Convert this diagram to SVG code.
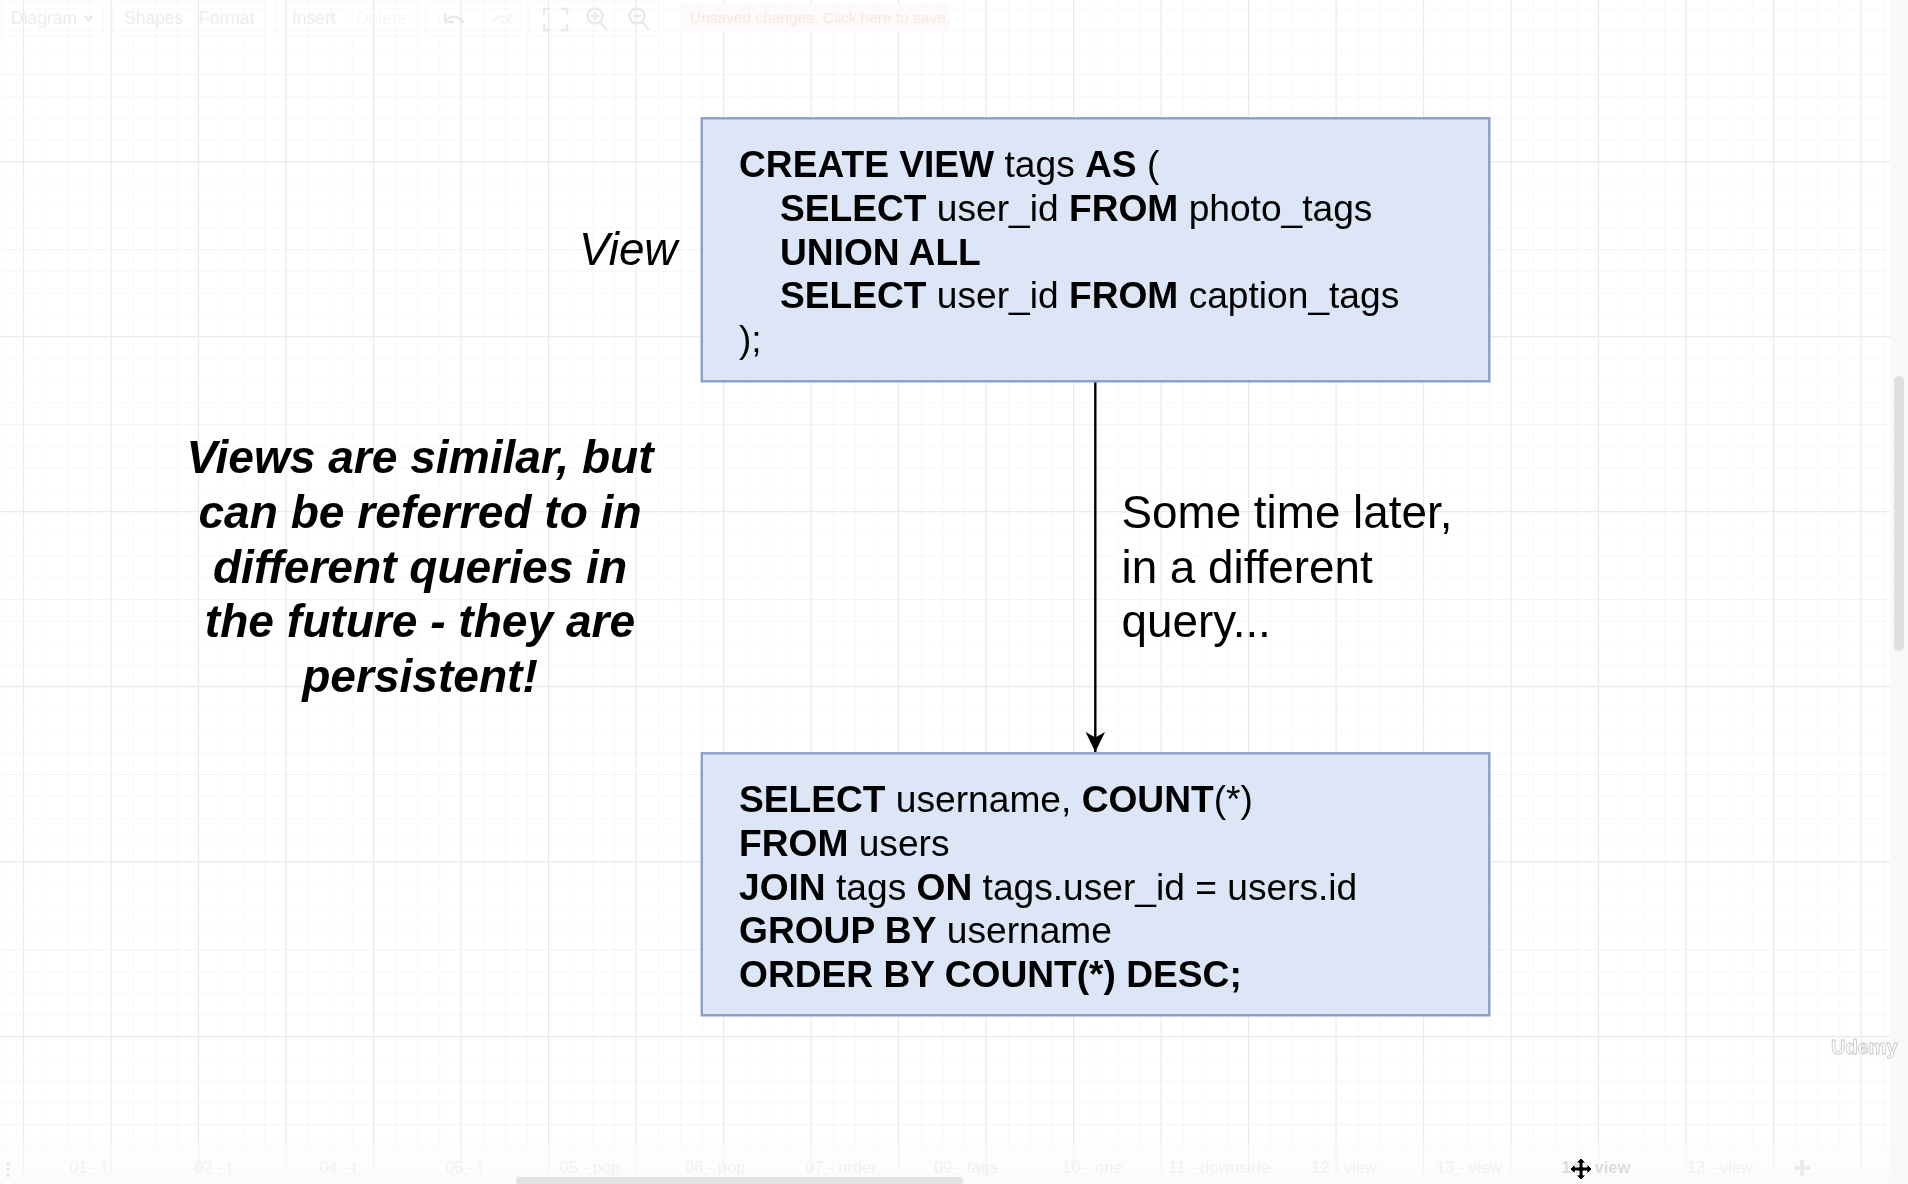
<svg xmlns="http://www.w3.org/2000/svg" width="1908" height="1184" viewBox="0 0 1908 1184">
<style>
text{font-family:"Liberation Sans",Arial,sans-serif}
.sql{font-size:37.15px;fill:#000}
.sql .b{font-weight:700}
.note{font-size:45.8px;fill:#000}
.strong{font-size:46.1px;font-weight:700;font-style:italic;text-anchor:middle}
.box{fill:#dce6f6;stroke:#8a9fc6;stroke-width:2.4}
.ui{font-size:17.5px;fill:#ececec}
.tab{font-size:16.5px;fill:#f0f0f0;text-anchor:middle}
.btn{fill:none;stroke:#f8f8f8;stroke-width:1.2}
.ico{fill:none;stroke:#e9e9e9;stroke-width:2.4}
</style>
<defs>
<pattern id="gMinor" patternUnits="userSpaceOnUse" x="1.75" y="8.5" width="21.875" height="21.875"><path d="M.5 0V21.875M0 .5H21.875" fill="none" stroke="#f8f8f8" stroke-width="1"/></pattern>
<pattern id="gMajor" patternUnits="userSpaceOnUse" x="23" y="74" width="87.5" height="87.5"><path d="M.5 0V87.5" stroke="#e8e8e8" stroke-width="1"/><path d="M0 .5H87.5" stroke="#f4f4f4" stroke-width="1"/></pattern>
<pattern id="gHoriz" patternUnits="userSpaceOnUse" x="0" y="161" width="175" height="175"><path d="M0 .5H175" stroke="#ebebeb" stroke-width="1.2"/></pattern>
<filter id="soft" x="-5%" y="-5%" width="110%" height="110%"><feGaussianBlur stdDeviation="0.55"/></filter>
<filter id="softer" filterUnits="userSpaceOnUse" x="0" y="0" width="1908" height="1184"><feGaussianBlur stdDeviation="0.3"/></filter>
<marker id="arrow" markerUnits="userSpaceOnUse" markerWidth="22" markerHeight="22" refX="20" refY="10" orient="auto"><path d="M20 10L0 .3L5.5 10L0 19.7Z" fill="#000"/></marker>
</defs>

<g id="canvas">
<rect width="1908" height="1184" fill="#ffffff"/>
<rect width="1890" height="1172" fill="url(#gMinor)"/>
<rect width="1890" height="1172" fill="url(#gMajor)"/>
<rect width="1890" height="1172" fill="url(#gHoriz)"/>
<rect x="0" y="1143" width="1890" height="41" fill="#fcfcfc" opacity=".5"/>
<rect x="0" y="1172" width="1890" height="12" fill="#fbfbfb"/>
<rect x="1890" y="0" width="18" height="1184" fill="#f9f9f9"/>
<rect x="1894" y="376" width="10" height="275" rx="5" fill="#dfdfdf"/>
<rect x="516" y="1177" width="447" height="7" rx="3" fill="#e3e3e3"/>
</g>

<g id="toolbar" filter="url(#soft)">
<rect class="btn" x="1" y="1" width="102" height="35" rx="3"/>
<rect class="btn" x="113" y="1" width="153" height="35" rx="3"/>
<rect class="btn" x="275" y="1" width="141" height="35" rx="3"/>
<rect class="btn" x="426" y="1" width="94" height="35" rx="3"/>
<rect class="btn" x="529" y="1" width="134" height="35" rx="3"/>
<text class="ui" x="11" y="24">Diagram</text>
<path class="ico" d="M85 16l3.5 4 3.5-4" stroke-width="1.4"/>
<text class="ui" x="124" y="24">Shapes</text>
<text class="ui" x="199" y="24">Format</text>
<text class="ui" x="292" y="24">Insert</text>
<text class="ui" x="356" y="24" style="fill:#f7f7f7">Delete</text>
<path class="ico" d="M445 13v9h9M446 21c4-6 12-6 17 2"/>
<path d="M510 13v9h-9M509 21c-4-6-12-6-17 2" fill="none" stroke="#f6f6f6" stroke-width="2.4"/>
<path class="ico" d="M544 15V9h6M561 9h6v6M567 24v6h-6M550 30h-6v-6"/>
<circle class="ico" cx="595" cy="16" r="7.5"/><path class="ico" d="M600 22l7 8M595 12v8M591 16h8"/>
<circle class="ico" cx="637" cy="16" r="7.5"/><path class="ico" d="M642 22l7 8M633 16h8"/>
<rect x="681" y="3" width="269" height="29" rx="2" fill="#fefafa"/>
<text x="690" y="23" font-size="15.5" fill="#f7e6e5">Unsaved changes. Click here to save.</text>
</g>

<g id="tabs" filter="url(#soft)">
<path d="M8 1162v3M8 1168v3M8 1174v3" stroke="#e6e6e6" stroke-width="3.5" fill="none"/>
<text class="tab" x="88" y="1173">01 - t</text>
<text class="tab" x="213" y="1173">02 - t</text>
<text class="tab" x="338" y="1173">04 - t</text>
<text class="tab" x="464" y="1173">05 - t</text>
<text class="tab" x="590" y="1173">05 - pop</text>
<text class="tab" x="715" y="1173">06 - pop</text>
<text class="tab" x="841" y="1173">07 - order</text>
<text class="tab" x="966" y="1173">09 - tags</text>
<text class="tab" x="1092" y="1173">10 - one</text>
<text class="tab" x="1219" y="1173">11 - downside</text>
<text class="tab" x="1344" y="1173">12 - view</text>
<text class="tab" x="1469" y="1173">13 - view</text>
<text class="tab" x="1596" y="1173" style="fill:#dcdcdc;font-weight:700">14 - view</text>
<text class="tab" x="1720" y="1173">13 - view</text>
<path d="M1802 1160v16M1794 1168h16" stroke="#ececec" stroke-width="4" fill="none"/>
</g>

<g id="connectors" filter="url(#softer)">
<path id="edge-view-query" d="M1095.3 382V752" fill="none" stroke="#000" stroke-width="2.4" marker-end="url(#arrow)"/>
</g>

<g id="node-view" filter="url(#softer)">
<rect class="box" x="701.8" y="118.3" width="787.5" height="263"/>
<text class="sql" x="739" y="177"><tspan class="b">CREATE VIEW</tspan> tags <tspan class="b">AS</tspan> (</text>
<text class="sql" x="780" y="221"><tspan class="b">SELECT</tspan> user_id <tspan class="b">FROM</tspan> photo_tags</text>
<text class="sql" x="780" y="264.5"><tspan class="b">UNION ALL</tspan></text>
<text class="sql" x="780" y="308"><tspan class="b">SELECT</tspan> user_id <tspan class="b">FROM</tspan> caption_tags</text>
<text class="sql" x="739" y="352">);</text>
</g>

<g id="node-query" filter="url(#softer)">
<rect class="box" x="701.8" y="753.3" width="787.5" height="262"/>
<text class="sql" x="739" y="812"><tspan class="b">SELECT</tspan> username, <tspan class="b">COUNT</tspan>(*)</text>
<text class="sql" x="739" y="856"><tspan class="b">FROM</tspan> users</text>
<text class="sql" x="739" y="899.5"><tspan class="b">JOIN</tspan> tags <tspan class="b">ON</tspan> tags.user_id = users.id</text>
<text class="sql" x="739" y="943"><tspan class="b">GROUP BY</tspan> username</text>
<text class="sql" x="739" y="987"><tspan class="b">ORDER BY COUNT(*) DESC;</tspan></text>
</g>

<g id="label-view" filter="url(#softer)">
<text class="note" x="579" y="265" font-style="italic">View</text>
</g>

<g id="label-persistent" filter="url(#softer)">
<text class="note strong" x="420" y="472.5">Views are similar, but</text>
<text class="note strong" x="420" y="527.5">can be referred to in</text>
<text class="note strong" x="420" y="582.5">different queries in</text>
<text class="note strong" x="420" y="637">the future - they are</text>
<text class="note strong" x="420" y="692">persistent!</text>
</g>

<g id="label-later" filter="url(#softer)">
<text class="note" x="1121.5" y="527.5">Some time later,</text>
<text class="note" x="1121.5" y="582.5">in a different</text>
<text class="note" x="1121.5" y="637">query...</text>
</g>

<g id="watermark" filter="url(#softer)">
<text x="1831" y="1054" font-size="20" font-weight="700" fill="#ffffff" stroke="#c4c4c4" stroke-width=".8">Udemy</text>
</g>

<g id="cursor" filter="url(#softer)">
<path d="M1581 1158l5 5h-3v4h4v-3l5 5-5 5v-3h-4v4h3l-5 5-5-5h3v-4h-4v3l-5-5 5-5v3h4v-4h-3z" fill="#000" stroke="#fff" stroke-width="1"/>
</g>
</svg>
